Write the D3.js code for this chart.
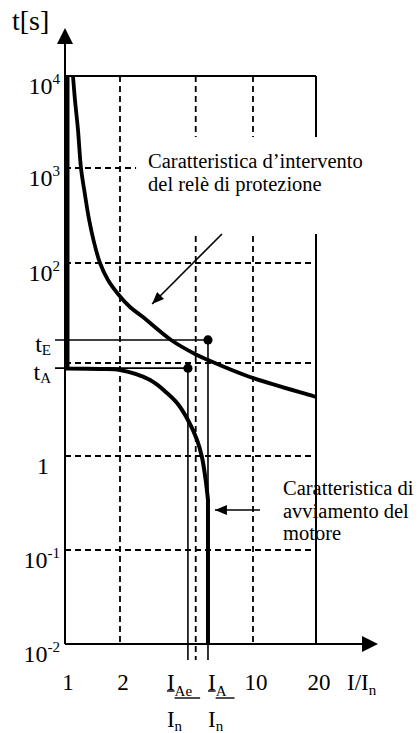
<!DOCTYPE html>
<html>
<head>
<meta charset="utf-8">
<script src="https://cdn.jsdelivr.net/npm/d3@7"></script>
<style>
  html, body { margin: 0; padding: 0; background: #fff; }
  svg { display: block; font-family: "Liberation Serif", "Times New Roman", serif; }
</style>
</head>
<body>
<svg id="chart" width="418" height="733"></svg>
<script>
// Current ratio I/In on x, time t [s] on y (both logarithmic)
const xGrid = [2, 5, 10];
const xTickValues = [1, 2, 10, 20];
const xTickLabels = ["1", "2", "10", "20"];

const yGrid = [1000, 100, 10, 1, 0.1];
const yTickValues = [10000, 1000, 100, 1, 0.1, 0.01];
const yTickBase = ["10", "10", "10", "1", "10", "10"];
const yTickExp = ["4", "3", "2", "", "-1", "-2"];

// Marked operating points
const tE = 17, tA = 8.8;      // s
const IAe = 4.55, IA = 5.8;   // I/In

// Protection relay tripping characteristic
const relayI = [1.106, 1.134, 1.178, 1.223, 1.287, 1.353, 1.441, 1.554, 1.719, 1.95, 2.257, 2.64, 3.71, 4.96, 5.8, 9.64, 19.35, 20];
const relayT = [10000, 5483, 2588, 1000, 520, 290, 166, 100, 67.6, 49.0, 36.3, 28.8, 17, 12.3, 10.7, 7.07, 4.42, 4.31];

// Motor starting characteristic
const motorI = [1.032, 1.032, 1.554, 2.0, 2.88, 3.53, 3.99, 4.55, 5.08, 5.39, 5.64, 5.8, 5.8];
const motorT = [10000, 8.73, 8.62, 8.41, 6.56, 4.76, 3.71, 2.44, 1.49, 0.976, 0.555, 0.34, 0.01];

// Annotation arrows: [I, t] of tail and tip
const arrowRelay = [[6.87, 202], [2.95, 38.9]];
const arrowMotor = [[10.8, 0.266], [6.31, 0.266]];

const svg = d3.select("#chart");

const x = d3.scaleLog().domain([1, 2, 10, 20]).range([65, 120, 253, 316]);
const y = d3.scaleLog()
  .domain([0.01, 0.1, 1, 10, 100, 1000, 10000])
  .range([644, 550, 456, 363, 263, 168, 76]);

const xMin = x(1), xMax = x(20), yMax = y(10000), yMin = y(0.01);

// ---- markers
const defs = svg.append("defs");
defs.append("marker")
  .attr("id", "head")
  .attr("markerUnits", "userSpaceOnUse")
  .attr("viewBox", "0 0 12 10")
  .attr("refX", 12).attr("refY", 5)
  .attr("markerWidth", 12).attr("markerHeight", 10)
  .attr("orient", "auto")
  .append("path").attr("d", "M0,0 L12,5 L0,10 Z").attr("fill", "#000");

// ---- grid
const grid = svg.append("g").attr("stroke", "#000").attr("stroke-width", 1.8)
  .attr("stroke-dasharray", "6,4").attr("fill", "none");
grid.selectAll("line.h").data(yGrid).join("line").attr("class", "h")
  .attr("x1", xMin).attr("x2", xMax)
  .attr("y1", d => y(d)).attr("y2", d => y(d));
grid.selectAll("line.v").data(xGrid).join("line").attr("class", "v")
  .attr("x1", d => x(d)).attr("x2", d => x(d))
  .attr("y1", yMax).attr("y2", d => d === 5 ? yMin + 16 : yMin);

// ---- frame (top decade and last current value)
const frame = svg.append("g").attr("stroke", "#000").attr("stroke-width", 2);
frame.append("line").attr("x1", xMin).attr("x2", xMax).attr("y1", yMax).attr("y2", yMax);
frame.append("line").attr("x1", xMax).attr("x2", xMax).attr("y1", yMax).attr("y2", yMin);

// ---- annotation: relay characteristic (text box with white background)
const noteRelay = svg.append("g");
const noteRelayText = noteRelay.append("text")
  .attr("font-size", 20.5).attr("fill", "#000");
noteRelayText.append("tspan").attr("x", x(2.81)).attr("y", y(1000)).text("Caratteristica d\u2019intervento");
noteRelayText.append("tspan").attr("x", x(2.81)).attr("dy", 23).text("del relè di protezione");
{
  const bb = noteRelayText.node().getBBox();
  noteRelay.insert("rect", "text")
    .attr("x", bb.x - 12).attr("y", bb.y - 13)
    .attr("width", bb.width + 18).attr("height", y(arrowRelay[0][1]) - (bb.y - 13))
    .attr("fill", "#fff");
}

// ---- annotation: motor starting characteristic
const noteMotor = svg.append("text").attr("font-size", 20.5).attr("fill", "#000");
["Caratteristica di", "avviamento del", "motore"].forEach((s, i) => {
  noteMotor.append("tspan").attr("x", 283).attr("y", 495 + i * 22.5).text(s);
});

// ---- guide lines for tE and tA
const guides = svg.append("g").attr("stroke", "#000").attr("stroke-width", 1.6);
guides.append("line").attr("x1", xMin - 10).attr("x2", x(IA)).attr("y1", y(tE)).attr("y2", y(tE));
guides.append("line").attr("x1", xMin - 10).attr("x2", x(IAe)).attr("y1", y(tA)).attr("y2", y(tA));
guides.append("line").attr("x1", x(IA)).attr("x2", x(IA)).attr("y1", y(tE)).attr("y2", yMin + 16);
guides.append("line").attr("x1", x(IAe)).attr("x2", x(IAe)).attr("y1", y(tA)).attr("y2", yMin + 16);

// ---- curves
const smooth = d3.line().curve(d3.curveCatmullRom.alpha(0.5));

const relayPts = relayI.map((v, i) => [x(v), y(relayT[i])]);
svg.append("path")
  .attr("d", smooth(relayPts))
  .attr("fill", "none").attr("stroke", "#000").attr("stroke-width", 3.8);

const motorPts = motorI.map((v, i) => [x(v), y(motorT[i])]);
const bend = motorPts.slice(1, motorPts.length - 1);
const bendPath = smooth(bend);
const first = motorPts[0], last = motorPts[motorPts.length - 1];
svg.append("path")
  .attr("d", `M${first[0]},${first[1]}L${bendPath.slice(1)}L${last[0]},${last[1]}`)
  .attr("fill", "none").attr("stroke", "#000").attr("stroke-width", 4)
  .attr("stroke-linejoin", "miter");

// ---- points
svg.selectAll("circle.pt").data([[IA, tE], [IAe, tA]]).join("circle")
  .attr("class", "pt")
  .attr("cx", d => x(d[0])).attr("cy", d => y(d[1])).attr("r", 4.6).attr("fill", "#000");

// ---- arrows
[arrowRelay, arrowMotor].forEach(a => {
  svg.append("line")
    .attr("x1", x(a[0][0])).attr("y1", y(a[0][1]))
    .attr("x2", x(a[1][0])).attr("y2", y(a[1][1]))
    .attr("stroke", "#000").attr("stroke-width", 1.6)
    .attr("marker-end", "url(#head)");
});

// ---- axes
const axes = svg.append("g");
axes.append("line").attr("x1", xMin).attr("x2", xMin).attr("y1", yMin).attr("y2", 42)
  .attr("stroke", "#000").attr("stroke-width", 2);
axes.append("path").attr("d", `M${xMin},28 L${xMin - 8},44 L${xMin + 8},44 Z`).attr("fill", "#000");
axes.append("line").attr("x1", xMin).attr("x2", 363).attr("y1", yMin).attr("y2", yMin)
  .attr("stroke", "#000").attr("stroke-width", 2);
axes.append("path").attr("d", `M378,${yMin} L362,${yMin - 8} L362,${yMin + 8} Z`).attr("fill", "#000");

// axis titles
svg.append("text").attr("x", 12).attr("y", 30).attr("font-size", 28).text("t[s]");

const iTitle = svg.append("text").attr("x", 347).attr("y", 690).attr("font-size", 23);
iTitle.append("tspan").text("I/I");
iTitle.append("tspan").attr("font-size", 15).attr("dy", 5).text("n");

// y tick labels
yTickValues.forEach((v, i) => {
  const t = svg.append("text").attr("font-size", 24).attr("y", y(v) + 18);
  if (yTickExp[i]) {
    t.attr("x", xMin - 5).attr("text-anchor", "end");
    t.append("tspan").text(yTickBase[i]);
    t.append("tspan").attr("font-size", 15).attr("dy", -10).text(yTickExp[i]);
  } else {
    t.attr("x", xMin - 22).attr("text-anchor", "middle").text(yTickBase[i]);
  }
});

// tE / tA labels
[["E", tE], ["A", tA]].forEach(([s, v]) => {
  const t = svg.append("text").attr("x", xMin - 14).attr("y", y(v) + 12)
    .attr("text-anchor", "end").attr("font-size", 24);
  t.append("tspan").text("t");
  t.append("tspan").attr("font-size", 15).attr("dy", 3).text(s);
});

// x tick labels
svg.selectAll("text.xt").data(xTickValues).join("text").attr("class", "xt")
  .attr("x", d => x(d) + 3).attr("y", 690)
  .attr("text-anchor", "middle").attr("font-size", 23)
  .text((d, i) => xTickLabels[i]);

// fraction labels I_Ae / I_n and I_A / I_n
function fraction(x0, sub) {
  const g = svg.append("g");
  const num = g.append("text").attr("x", x0).attr("y", 690).attr("font-size", 23);
  const main = num.append("tspan").text("I");
  const s = num.append("tspan").attr("font-size", 15).attr("dy", 6).text(sub);
  const wI = main.node().getComputedTextLength();
  const wS = s.node().getComputedTextLength();
  g.append("line").attr("x1", x0).attr("x2", x0 + wI).attr("y1", 691).attr("y2", 691)
    .attr("stroke", "#000").attr("stroke-width", 1.4);
  g.append("line").attr("x1", x0 + wI).attr("x2", x0 + wI + wS + 8).attr("y1", 698).attr("y2", 698)
    .attr("stroke", "#000").attr("stroke-width", 1.4);
  const den = g.append("text").attr("x", x0).attr("y", 727).attr("font-size", 23);
  den.append("tspan").text("I");
  den.append("tspan").attr("font-size", 15).attr("dy", 4).text("n");
}
fraction(x(IAe) - 21, "Ae");
fraction(x(IA), "A");
</script>
</body>
</html>
